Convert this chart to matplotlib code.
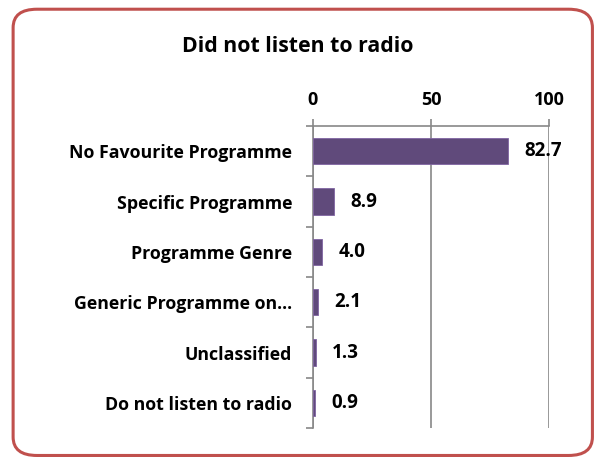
import matplotlib
matplotlib.use("Agg")
import matplotlib.pyplot as plt
from matplotlib.patches import FancyBboxPatch

categories = ["No Favourite Programme", "Specific Programme", "Programme Genre",
              "Generic Programme on...", "Unclassified", "Do not listen to radio"]
values = [82.7, 8.9, 4.0, 2.1, 1.3, 0.9]
x_ticks = [0, 50, 100]
title = "Did not listen to radio"

plt.rcParams["font.family"] = ["Open Sans", "DejaVu Sans"]
plt.rcParams["font.weight"] = "bold"

fig = plt.figure(figsize=(5.96, 4.61), dpi=100)
fig.patch.set_facecolor("white")

# rounded frame around the chart
frame = FancyBboxPatch((0.022, 0.012), 0.972, 0.968,
                       boxstyle="round,pad=0,rounding_size=0.04",
                       transform=fig.transFigure, facecolor="none",
                       edgecolor="#C0504D", linewidth=2.2, zorder=0)
fig.patches.append(frame)

ax = fig.add_axes([313 / 596, 1 - 428 / 461, (549 - 313) / 596, (428 - 126) / 461])
ax.set_facecolor("none")

y = list(range(len(categories)))
ax.barh(y, values, height=0.52, color="#604A7B", edgecolor="#8064A2",
        linewidth=0.6, zorder=3)
ax.set_ylim(len(categories) - 0.5, -0.5)
ax.set_xlim(0, 100)

ax.xaxis.tick_top()
ax.set_xticks(x_ticks)
ax.set_xticklabels([str(t) for t in x_ticks], fontsize=13, fontweight="bold")
ax.tick_params(axis="x", length=5, color="#888888", width=1.2, pad=7)
ax.grid(axis="x", color="#888888", linewidth=1.2, zorder=1)

ax.set_yticks([i - 0.5 for i in range(len(categories) + 1)], minor=False)
ax.set_yticklabels([])
ax.set_yticks(y, minor=True)
ax.set_yticklabels(categories, minor=True, fontsize=12.8, fontweight="bold")
ax.tick_params(axis="y", which="major", length=5, color="#888888", width=1.2)
ax.tick_params(axis="y", which="minor", length=0, pad=15)

for side in ["right", "bottom"]:
    ax.spines[side].set_visible(False)
for side in ["left", "top"]:
    ax.spines[side].set_color("#888888")
    ax.spines[side].set_linewidth(1.2)

for yi, v in zip(y, values):
    ax.annotate(f"{v:.1f}", (v, yi), xytext=(11.5, 0), textcoords="offset points",
                va="center", ha="left", fontsize=13.5, fontweight="bold", zorder=4)

fig.text(298 / 596, 1 - 47 / 461, title, ha="center", va="center",
         fontsize=15.3, fontweight="bold")

fig.savefig("out.png", dpi=100)
